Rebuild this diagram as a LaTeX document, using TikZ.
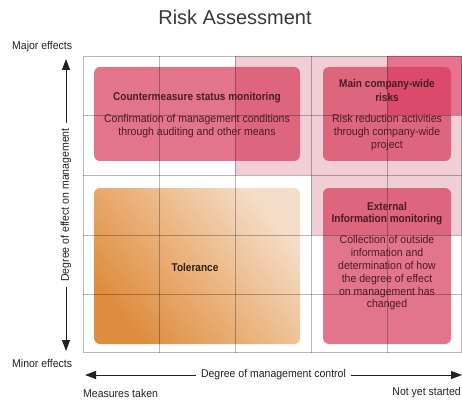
\documentclass[tikz,border=0pt]{standalone}
\usepackage{fontspec}
\setmainfont{Liberation Sans}[FakeStretch=0.93]
\newfontfamily\headfont{Liberation Sans}[FakeStretch=0.89]
\newfontfamily\titlefont{Liberation Sans}
\usetikzlibrary{arrows.meta}
\definecolor{cellpink}{HTML}{F1CDD5}
\definecolor{celldark}{HTML}{E87391}
\definecolor{boxpink}{HTML}{D63A5A}
\definecolor{boxtext}{HTML}{4D1A26}
\definecolor{toldark}{HTML}{DE8C3E}
\definecolor{tolmid}{HTML}{EBB47F}
\definecolor{tollight}{HTML}{F4DEC9}
\definecolor{axistext}{HTML}{222222}
\tikzset{
  pinkbox/.style={rectangle, rounded corners=6pt, fill=boxpink, fill opacity=0.7, draw=none},
  tolbox/.style={rectangle, rounded corners=6pt, draw=none, bottom color=toldark, top color=tollight, middle color=tolmid, shading angle=-50},
  gridline/.style={draw=black, draw opacity=0.28, line width=0.8pt},
  boxhead/.style={text=boxtext, font=\headfont\fontsize{11.3}{14}\selectfont\bfseries, align=center, inner sep=0pt},
  boxbody/.style={text=boxtext, font=\fontsize{11.3}{13}\selectfont, align=center, inner sep=0pt},
  axislbl/.style={text=axistext, font=\fontsize{11.3}{13}\selectfont, inner sep=0pt},
  axisarrow/.style={draw=axistext, line width=1pt, {Triangle[length=11pt,width=8pt]}-{Triangle[length=11pt,width=8pt]}}
}
\begin{document}
\begin{tikzpicture}[x=1pt,y=-1pt]
\useasboundingbox (0,0) rectangle (462,403);
% title
\node[font=\titlefont\fontsize{20}{24}\selectfont, text=black!78] (title) at (235,17) {Risk Assessment};
% shaded cells
\fill[cellpink] (235,56) rectangle (311,175);
\fill[cellpink] (311,56) rectangle (462,235);
\fill[celldark] (387,56) rectangle (462,115);
% boxes
\node[pinkbox, minimum width=206pt, minimum height=94pt] (cm) at (197,114) {};
\node[pinkbox, minimum width=128pt, minimum height=94pt] (mc) at (387,114) {};
\node[tolbox, minimum width=206pt, minimum height=156pt] (tol) at (197,266) {};
\node[pinkbox, minimum width=128pt, minimum height=156pt] (ext) at (387,266) {};
% grid
\foreach \x in {159,235,311,387} { \draw[gridline] (\x,56) -- (\x,353); }
\foreach \y in {115,175,235,294} { \draw[gridline] (83,\y) -- (462,\y); }
\draw[gridline] (83.4,56.4) rectangle (461.6,352.6);
% box texts
\node[boxhead] (cmh) at (197,98) {Countermeasure status monitoring};
\node[boxbody] (cmb) at (197,126) {Confirmation of management conditions\\through auditing and other means};
\node[boxhead] (mch) at (387,90) {Main company-wide\\risks};
\node[boxbody] (mcb) at (387,132.5) {Risk reduction activities\\through company-wide\\project};
\node[boxhead, font=\headfont\fontsize{11.3}{11.5}\selectfont\bfseries] (exth) at (387,213.5) {External\\Information monitoring};
\node[boxbody, font=\fontsize{11.3}{12.8}\selectfont] (extb) at (387,273) {Collection of outside\\information and\\determination of how\\the degree of effect\\on management has\\changed};
\node[boxhead, text=black!75!brown] (tolt) at (195,267) {Tolerance};
% axes
\node[axislbl, anchor=west] (major) at (12,47) {Major effects};
\node[axislbl, anchor=west] (minor) at (12,363) {Minor effects};
\coordinate (vtop) at (66,59);
\coordinate (vbot) at (66,351);
\draw[axisarrow] (vtop) -- (vbot) node[midway, axislbl, rotate=90, fill=white, inner xsep=5pt] (vlbl) {Degree of effect on management};
\coordinate (hl) at (85,375);
\coordinate (hr) at (462,375);
\draw[axisarrow] (hl) -- (hr) node[midway, axislbl, fill=white, inner xsep=5pt, inner ysep=2pt] (hlbl) {Degree of management control};
\node[axislbl, anchor=west] (meas) at (83,393) {Measures taken};
\node[axislbl, anchor=east] (nys) at (461,393) {Not yet started};
\end{tikzpicture}
\end{document}
